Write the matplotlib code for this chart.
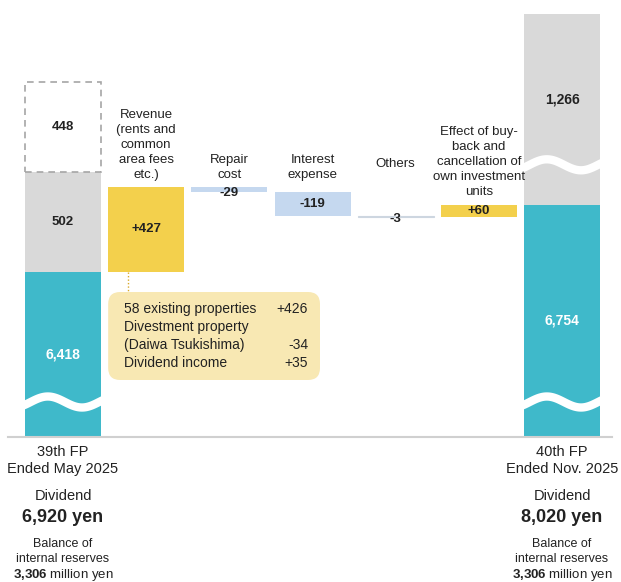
import numpy as np
import matplotlib.pyplot as plt
from matplotlib import transforms
from matplotlib.patches import FancyBboxPatch

plt.rcParams['font.family'] = ['Liberation Sans', 'DejaVu Sans']
plt.rcParams['mathtext.fontset'] = 'custom'
plt.rcParams['mathtext.rm'] = 'Liberation Sans'
plt.rcParams['mathtext.bf'] = 'Liberation Sans:bold'

# values (million yen)
start_teal = 6418
start_gray = 502
start_reserve = 448
end_teal = 6754
end_gray = 1266

step_labels = [
    'Revenue\n(rents and\ncommon\narea fees\netc.)',
    'Repair\ncost',
    'Interest\nexpense',
    'Others',
    'Effect of buy-\nback and\ncancellation of\nown investment\nunits',
]
step_values = [427, -29, -119, -3, 60]

period_labels = [['39th FP', 'Ended May 2025'], ['40th FP', 'Ended Nov. 2025']]
dividends = [6920, 8020]
reserves = [3306, 3306]

breakdown_labels = ['58 existing properties', 'Divestment property\n(Daiwa Tsukishima)', 'Dividend income']
breakdown_values = [426, -34, 35]

# colours
TEAL = '#3fb9ca'
GRAY = '#d9d9d9'
YELLOW = '#f3d04c'
BLUE = '#c5d8ef'
CALLOUT = '#f8e8b3'
TXT = '#222222'

W, H = 621, 582
fig = plt.figure(figsize=(W / 100, H / 100), dpi=100)
ax_bottom_px, ax_top_px = 437, 14
ax = fig.add_axes([0, 1 - ax_bottom_px / H, 1, (ax_bottom_px - ax_top_px) / H])
ax.axis('off')

step_px = 83.17          # px between bar centres
x0_px = 63               # centre of first bar
ax.set_xlim(-x0_px / step_px, (W - x0_px) / step_px)
units_per_px = 5.0
ybot = start_teal - 165 * units_per_px
ytop = ybot + (ax_bottom_px - ax_top_px) * units_per_px
ax.set_ylim(ybot, ytop)

bw = 76 / step_px
n = len(step_values)
x_end = n + 1

# helper for text placed by figure pixel row
tr = transforms.blended_transform_factory(ax.transData, fig.transFigure)
def fy(px):
    return 1 - px / H

# --- start bar
ax.bar(0, start_teal, width=bw, color=TEAL, lw=0)
ax.bar(0, start_gray, bottom=start_teal, width=bw, color=GRAY, lw=0)
ax.bar(0, start_reserve, bottom=start_teal + start_gray, width=bw, color='white',
       edgecolor='#a6a6a6', lw=1.2, linestyle=(0, (4, 3)))

# --- steps
level = start_teal
for i, v in enumerate(step_values):
    x = i + 1
    bottom = level if v > 0 else level + v
    col = YELLOW if v > 0 else BLUE
    if abs(v) < 10:
        ax.bar(x, abs(v), bottom=bottom, width=bw, color=BLUE, edgecolor='#cdd6e0', lw=0.8)
    else:
        ax.bar(x, abs(v), bottom=bottom, width=bw, color=col, lw=0)
    if abs(v) < 10:
        ly = bottom - 10
    elif abs(v) < 50:
        ly = bottom - 3
    else:
        ly = bottom + abs(v) / 2
    ax.text(x, ly, f'{v:+d}', ha='center', va='center',
            fontsize=9.5, fontweight='bold', color=TXT)
    level += v

# --- end bar
ax.bar(x_end, end_teal, width=bw, color=TEAL, lw=0)
ax.bar(x_end, end_gray, bottom=end_teal, width=bw, color=GRAY, lw=0)

# wave breaks
def wave(xc, yc):
    f = np.linspace(-0.03, 1.03, 120)
    xs = xc - bw / 2 + f * bw
    ys = yc + 5.5 * units_per_px * np.cos(2 * np.pi * (f - 0.3) / 0.9)
    ax.plot(xs, ys, color='white', lw=6, solid_capstyle='butt', zorder=3)

wave(0, ybot + 35 * units_per_px)
wave(x_end, ybot + 35 * units_per_px)
wave(x_end, end_teal + 40 * units_per_px)

# baseline
ax.axhline(ybot, xmin=8 / W, xmax=612 / W, color='#d0d0d0', lw=1.5, clip_on=False)

# bar value labels
ax.text(0, start_teal + start_gray + start_reserve / 2, f'{start_reserve:,}', ha='center', va='center',
        fontsize=9.5, fontweight='bold', color=TXT)
ax.text(0, start_teal + start_gray / 2, f'{start_gray:,}', ha='center', va='center',
        fontsize=9.5, fontweight='bold', color=TXT)
ax.text(0, (ybot + start_teal) / 2, f'{start_teal:,}', ha='center', va='center',
        fontsize=10, fontweight='bold', color='white')
ax.text(x_end, (ybot + end_teal) / 2, f'{end_teal:,}', ha='center', va='center',
        fontsize=10, fontweight='bold', color='white')
ax.text(x_end, end_teal + 0.55 * (ytop - end_teal), f'{end_gray:,}', ha='center', va='center',
        fontsize=10, fontweight='bold', color=TXT)

# category labels
label_rows = [181, 181, 181, None, 198]
for i, lab in enumerate(step_labels):
    if label_rows[i] is None:
        ax.text(i + 1, fy(164), lab, transform=tr, ha='center', va='center',
                fontsize=9.5, color=TXT)
    else:
        ax.text(i + 1, fy(label_rows[i]), lab, transform=tr, ha='center', va='bottom',
                fontsize=9.5, color=TXT, linespacing=1.33)

# callout box for revenue breakdown
sx = 1 / step_px
box_left = 1 - bw / 2
box_right = (320 - x0_px) * sx
box_top = start_teal - 20 * units_per_px
box_bot = start_teal - 108 * units_per_px
box = FancyBboxPatch((box_left, box_bot), box_right - box_left, box_top - box_bot,
                     boxstyle=f'round,pad=0,rounding_size={12 * sx}',
                     mutation_aspect=units_per_px / sx, fc=CALLOUT, ec='none')
ax.add_patch(box)
cx = (128 - x0_px) * sx
ax.plot([cx, cx], [start_teal, box_top], color='#d9a92a', lw=1, linestyle=(0, (1, 1.5)))

left_txt = '\n'.join(breakdown_labels)
right_lines = []
for lab, val in zip(breakdown_labels, breakdown_values):
    right_lines += [''] * lab.count('\n') + [f'{val:+d}']
ax.text((124 - x0_px) * sx, fy(302), left_txt, transform=tr, ha='left', va='top',
        fontsize=10, color=TXT, linespacing=1.36)
ax.text((308 - x0_px) * sx, fy(302), '\n'.join(right_lines), transform=tr, ha='right', va='top',
        fontsize=10, color=TXT, linespacing=1.36, multialignment='right')

# period captions
for x, per, div, res in zip([0, x_end], period_labels, dividends, reserves):
    ax.text(x, fy(452), per[0], transform=tr, ha='center', va='center', fontsize=10.5, color=TXT)
    ax.text(x, fy(469), per[1], transform=tr, ha='center', va='center', fontsize=10.5, color=TXT)
    ax.text(x, fy(496), 'Dividend', transform=tr, ha='center', va='center', fontsize=10.5, color=TXT)
    ax.text(x, fy(517), f'{div:,} yen', transform=tr, ha='center', va='center',
            fontsize=13, fontweight='bold', color=TXT)
    ax.text(x, fy(544), 'Balance of', transform=tr, ha='center', va='center', fontsize=9, color=TXT)
    ax.text(x, fy(559), 'internal reserves', transform=tr, ha='center', va='center', fontsize=9, color=TXT)
    num = f'{res:,}'.replace(',', '{,}')
    ax.text(x, fy(575), r'$\mathbf{' + num + r'}$ million yen', transform=tr, ha='center',
            va='center', fontsize=9.5, color=TXT)

fig.savefig('out.png', dpi=100, facecolor='white')
